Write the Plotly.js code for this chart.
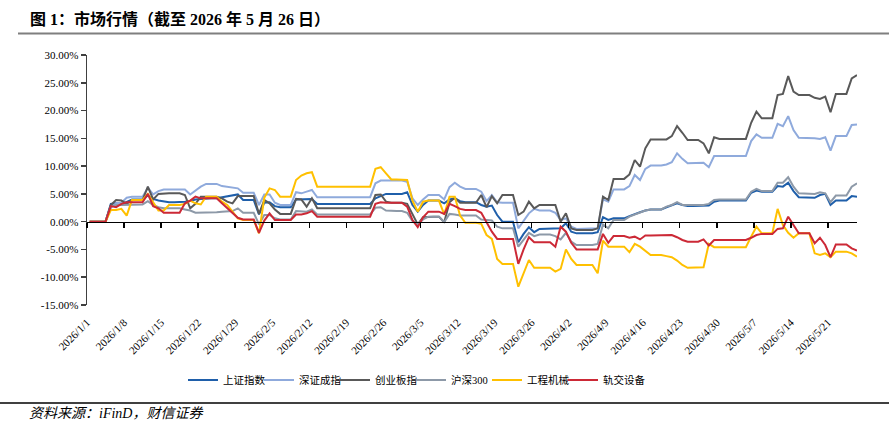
<!DOCTYPE html>
<html>
<head>
<meta charset="utf-8">
<script src="https://cdn.plot.ly/plotly-3.0.1.min.js"></script>
<style>html,body{margin:0;padding:0;background:#fff;}#chart{width:889px;height:430px;}</style>
</head>
<body>
<div id="chart"></div>
<script>
// ---- Data (daily, calendar days from 2026-01-01 to 2026-05-26; % change since 2026-01-01) ----
const startDay = '2026-01-01';
const seriesNames = ['上证指数', '深证成指', '创业板指', '沪深300', '工程机械', '轨交设备'];

const shIndex = [
  // Jan
  0,0,0,0, 3.2,3.3,3.1,3.6,4.0,4.0,4.0, 4.7,4.1,3.8,3.6,3.5,3.5,3.5, 3.6,3.7,4.0,4.1,4.2,4.2,4.2, 4.4,4.6,4.8,4.9,3.9,3.9,
  // Feb
  3.9, 1.3,3.4,3.5,2.8,2.6,2.6,2.6, 4.0,4.0,4.1,4.1,3.2, 3.2,3.2,3.2,3.2,3.2,3.2,3.2,3.2,3.2,3.2, 4.2,4.6,5.0,5.0,5.0,
  // Mar
  5.0, 5.3,3.0,1.8,3.0,3.8,3.8,3.8, 3.3,4.0,4.2,3.7,3.5,3.5,3.5, 3.0,2.7,2.9,1.2,0.0,0.0,0.0, -3.7,-2.2,-1.0,-1.9,-1.3,-1.3,-1.3, -1.2,-1.2,
  // Apr
  -0.3,-1.8,-2.1,-2.1,-2.1,-2.1, -1.9,0.8,0.3,0.6,0.6,0.6, 1.0,1.4,1.7,2.0,2.2,2.2,2.2, 2.6,3.0,3.3,3.0,2.8,2.8,2.8, 2.9,2.9,3.6,3.8,
  // May
  3.8,3.8,3.8,3.8,3.8, 5.2,5.6,5.4,5.4,5.4, 6.4,6.3,7.0,5.5,4.4,4.4,4.4, 4.3,4.8,5.0,3.0,3.8,3.8,3.8, 4.6,4.5
];

const szIndex = [
  0,0,0,0, 2.5,3.3,3.4,4.3,4.5,4.5,4.5, 6.1,4.9,5.5,5.8,5.8,5.8,5.8, 5.8,4.9,5.6,6.3,6.8,6.8,6.8, 6.4,6.3,6.2,6.0,5.2,5.2,
  5.2, 3.0,4.9,4.9,3.4,3.0,3.0,3.0, 5.3,5.1,5.4,5.7,4.4, 4.4,4.4,4.4,4.4,4.4,4.4,4.4,4.4,4.4,4.4, 6.9,7.4,7.4,7.4,7.4,
  7.4, 7.2,4.2,3.0,4.0,4.8,4.8,4.8, 4.0,6.2,7.0,6.3,5.9,5.9,5.9, 5.4,3.7,4.8,3.5,3.4,3.4,3.4, -1.2,0.2,1.5,2.3,2.0,2.0,2.0, 1.6,0.3,
  0.6,-0.9,-1.3,-1.3,-1.3,-1.3, -1.2,4.0,3.6,5.8,5.8,5.8, 6.4,8.4,7.5,9.5,10.1,10.1,10.1, 10.3,10.7,12.3,11.3,10.5,10.5,10.5, 10.6,9.8,11.8,11.8,
  11.8,11.8,11.8,11.8,11.8, 14.5,15.7,15.1,15.1,15.1, 17.6,17.2,19.0,16.5,15.1,15.1,15.1, 15.0,14.9,15.2,12.8,15.4,15.4,15.4, 17.4,17.5
];

const cybIndex = [
  0,0,0,0, 3.0,3.9,3.8,3.2,3.9,3.9,3.9, 6.3,4.0,5.0,5.1,5.1,5.1,5.1, 4.8,2.4,3.2,4.5,4.5,4.5,4.5, 4.2,3.6,3.3,4.6,4.6,4.6,
  4.6, 1.4,3.9,3.3,2.2,1.4,1.4,1.4, 4.1,4.0,2.7,4.2,2.4, 2.4,2.4,2.4,2.4,2.4,2.4,2.4,2.4,2.4,2.4, 4.8,4.9,3.6,3.4,3.4,
  3.4, 3.2,1.4,-0.5,0.8,0.9,0.9,0.9, -0.1,3.5,4.3,3.4,3.4,3.4,3.4, 4.8,2.6,4.6,3.3,4.8,4.8,4.8, 1.2,1.8,3.6,2.4,3.0,3.0,3.0, 3.0,0.0,
  1.5,-1.2,-1.5,-1.5,-1.5,-1.5, -1.2,4.5,3.9,7.7,7.7,7.7, 8.5,11.1,9.9,13.2,14.8,14.8,14.8, 14.8,15.4,17.2,16.0,14.7,14.7,14.7, 14.1,12.3,15.2,14.9,
  14.9,14.9,14.9,14.9,14.9, 17.8,19.8,18.6,18.6,18.6, 22.8,23.0,26.2,23.4,22.8,22.8,22.8, 22.3,22.1,22.5,19.7,23.0,23.0,23.0, 25.8,26.4
];

const hs300 = [
  0,0,0,0, 2.7,3.0,3.0,3.0,3.1,3.1,3.1, 3.7,3.0,2.6,2.4,2.4,2.4,2.4, 2.2,2.0,1.6,1.6,1.7,1.7,1.7, 1.8,1.8,1.9,2.4,1.6,1.6,
  1.6, -0.5,1.2,1.2,0.6,0.4,0.4,0.4, 1.9,1.9,1.8,2.2,1.3, 1.3,1.3,1.3,1.3,1.3,1.3,1.3,1.3,1.3,1.3, 2.5,2.6,2.0,1.9,1.9,
  1.9, 1.6,0.1,-0.5,0.4,0.9,0.9,0.9, -0.1,1.4,1.3,1.1,1.1,1.1,1.1, 0.4,0.3,0.2,-0.9,-1.2,-1.2,-1.2, -4.5,-3.2,-2.0,-2.6,-2.3,-2.3,-2.3, -2.6,-3.2,
  -2.0,-3.6,-4.2,-4.2,-4.2,-4.2, -4.0,-0.5,-1.2,0.3,0.3,0.3, 0.9,1.3,1.6,2.0,2.2,2.2,2.2, 2.7,3.0,3.5,3.0,3.0,3.0,3.0, 3.0,3.2,3.9,4.0,
  4.0,4.0,4.0,4.0,4.0, 5.4,5.9,5.5,5.5,5.5, 7.0,7.0,8.0,6.3,5.1,5.1,5.1, 5.0,5.3,5.1,3.5,4.7,4.7,4.7, 6.3,6.9
];

const machinery = [
  0,0,0,0, 2.1,2.1,2.3,1.1,3.9,3.9,3.9, 5.0,3.4,2.0,2.0,3.0,3.0,3.0, 3.2,3.8,3.3,3.1,4.5,4.5,4.5, 3.6,3.0,1.8,0.6,0.3,0.3,
  0.3, -2.1,4.3,6.0,5.7,4.5,4.5,4.5, 7.5,8.3,8.7,8.9,6.3, 6.3,6.3,6.3,6.3,6.3,6.3,6.3,6.3,6.3,6.3, 9.5,9.8,8.7,7.6,7.6,
  7.6, 7.5,3.8,1.8,3.6,3.8,3.8,3.8, 1.3,4.5,4.5,1.1,-0.2,-0.2,-0.2, -0.4,-2.4,-3.1,-6.7,-7.6,-7.6,-7.6, -11.7,-9.3,-6.9,-8.3,-8.3,-8.3,-8.3, -9.0,-8.5,
  -5.0,-6.7,-7.8,-7.8,-7.8,-7.8, -9.3,-3.4,-4.5,-4.5,-4.5,-4.5, -5.5,-4.0,-4.5,-5.3,-6.0,-6.0,-6.0, -6.2,-6.4,-7.0,-7.8,-8.3,-8.3,-8.3, -8.2,-4.0,-4.6,-4.6,
  -4.6,-4.6,-4.6,-4.6,-4.6, -2.7,-0.9,-2.1,-2.1,-2.1, 2.3,-0.6,-2.0,-2.9,-2.1,-2.1,-2.1, -5.7,-6.0,-5.7,-6.4,-5.4,-5.4,-5.4, -5.7,-6.3
];

const railEquip = [
  0,0,0,0, 2.8,2.6,3.2,3.5,3.5,3.5,3.5, 5.0,2.8,2.4,1.6,1.6,1.6,1.6, 3.3,3.8,4.5,4.2,4.2,4.2,4.2, 3.3,2.4,1.5,0.7,0.4,0.4,
  0.4, -2.0,0.2,1.5,0.3,0.3,0.3,0.3, 1.3,1.3,1.5,1.9,0.9, 0.9,0.9,0.9,0.9,0.9,0.9,0.9,0.9,0.9,0.9, 3.2,3.5,3.4,3.4,3.4,
  3.4, 2.7,0.3,-1.0,0.8,1.8,1.8,1.8, 1.4,3.2,2.8,2.3,2.1,2.1,2.1, 1.6,0.0,-1.8,-3.1,-3.1,-3.1,-3.1, -7.6,-5.0,-2.8,-3.7,-3.7,-3.7,-3.7, -4.5,-0.9,
  -1.8,-3.8,-5.0,-5.0,-5.0,-5.0, -5.0,-2.2,-3.8,-2.6,-2.6,-2.6, -2.9,-2.7,-3.2,-2.5,-2.5,-2.5,-2.5, -2.5,-2.4,-2.8,-3.3,-3.6,-3.6,-3.6, -3.2,-4.3,-3.3,-3.3,
  -3.3,-3.3,-3.3,-3.3,-3.3, -2.9,-2.4,-2.2,-2.2,-2.2, -1.3,-1.2,0.9,-0.7,-2.1,-2.1,-2.1, -3.9,-2.9,-4.2,-6.4,-4.1,-4.1,-4.1, -4.8,-5.2
];

const xTickLabels = ['2026/1/1','2026/1/8','2026/1/15','2026/1/22','2026/1/29','2026/2/5','2026/2/12','2026/2/19','2026/2/26',
  '2026/3/5','2026/3/12','2026/3/19','2026/3/26','2026/4/2','2026/4/9','2026/4/16','2026/4/23','2026/4/30','2026/5/7','2026/5/14','2026/5/21'];
const yTickValues = [-15, -10, -5, 0, 5, 10, 15, 20, 25, 30];

// ---- Build ----
const DAY = 86400000;
const t0 = Date.parse(startDay + 'T00:00:00Z');
function fmt(ms) { const s = new Date(ms).toISOString(); return s.slice(0, 10) + ' ' + s.slice(11, 19); }
const dates = shIndex.map((_, i) => fmt(t0 + i * DAY).slice(0, 10));
// ticks sit on the day boundaries (points are drawn in the middle of each day)
const tickVals = xTickLabels.map(s => { const p = s.split('/').map(Number); return fmt(Date.UTC(p[0], p[1] - 1, p[2]) - DAY / 2); });
const xRange = [fmt(t0 - DAY / 2), fmt(t0 + (shIndex.length - 1) * DAY)];

const seriesData = [shIndex, szIndex, cybIndex, hs300, machinery, railEquip];
const colors = ['#1F5FAA', '#8FAADC', '#595959', '#8D99A8', '#FFC000', '#CC2936'];

const serif = '"Liberation Serif", "Times New Roman", "Noto Sans CJK SC", serif';
const traces = seriesData.map((ys, k) => ({
  type: 'scatter', mode: 'lines', name: seriesNames[k],
  x: dates, y: ys,
  line: { color: colors[k], width: 2 },
  hoverinfo: 'skip'
}));
// helper traces with no visible marks: one carries the zero-level axis, one pads the legend so the last label is not clipped
traces.push({ type: 'scatter', mode: 'lines', x: [], y: [], xaxis: 'x2', showlegend: false, hoverinfo: 'skip' });
traces.push({ type: 'scatter', mode: 'lines', x: [dates[0]], y: [null], name: '\u00a0', showlegend: true,
  line: { width: 0, color: 'rgba(0,0,0,0)' }, hoverinfo: 'skip' });

const W = 889, H = 430, mL = 87, mR = 32, mT = 55, mB = 125;
const pw = W - mL - mR, ph = H - mT - mB;
const px = v => (v - mL) / pw;          // pixel -> paper x
const py = v => (H - mB - v) / ph;      // pixel -> paper y
const yLo = yTickValues[0], yHi = yTickValues[yTickValues.length - 1];

const layout = {
  width: W, height: H,
  margin: { l: mL, r: mR, t: mT, b: mB },
  paper_bgcolor: '#fff', plot_bgcolor: '#fff',
  showlegend: true,
  font: { family: serif, color: '#000' },
  title: {
    text: '<b>图 1：市场行情（截至 2026 年 5 月 26 日）</b>',
    xref: 'container', yref: 'container', x: 30 / W, y: 1 - 19 / H, xanchor: 'left', yanchor: 'middle',
    font: { family: serif, size: 16, color: '#000' }
  },
  xaxis: {
    type: 'date', range: xRange, tickmode: 'array', tickvals: tickVals, ticktext: xTickLabels,
    tickangle: -45, showline: false, ticks: '', showgrid: false, zeroline: false, ticklabelstandoff: 8,
    tickfont: { family: serif, size: 11, color: '#000' }
  },
  xaxis2: {
    type: 'date', overlaying: 'x', anchor: 'free', position: (0 - yLo) / (yHi - yLo),
    range: xRange, tickmode: 'array', tickvals: tickVals, showticklabels: false,
    showline: true, linecolor: '#000', linewidth: 1.5, ticks: 'outside', ticklen: 5, tickwidth: 1.5, tickcolor: '#000',
    showgrid: false, zeroline: false
  },
  yaxis: {
    range: [yLo, yHi], tickmode: 'array', tickvals: yTickValues, ticktext: yTickValues.map(v => v.toFixed(2) + '%'),
    showline: true, linecolor: '#404040', linewidth: 1.5, ticks: 'outside', ticklen: 5, tickwidth: 1.5, tickcolor: '#404040',
    showgrid: false, zeroline: false,
    tickfont: { family: serif, size: 11, color: '#000' }
  },
  legend: {
    orientation: 'h', x: px(183), xanchor: 'left', y: py(380), yanchor: 'middle',
    font: { family: serif, size: 10.5, color: '#000' },
    entrywidth: 31, entrywidthmode: 'pixels', bgcolor: 'rgba(0,0,0,0)'
  },
  shapes: [
    { type: 'line', xref: 'paper', yref: 'paper', x0: px(18), x1: px(W), y0: py(33.5), y1: py(33.5), line: { color: '#7F7F7F', width: 2 } },
    { type: 'line', xref: 'paper', yref: 'paper', x0: px(0), x1: px(W), y0: py(403), y1: py(403), line: { color: '#000', width: 1.5 } }
  ],
  annotations: [
    { text: '<i>资料来源：iFinD，财信证券</i>', xref: 'paper', yref: 'paper', x: px(27), y: py(413), xanchor: 'left', yanchor: 'middle',
      showarrow: false, font: { family: serif, size: 14, color: '#000' } }
  ]
};

Plotly.newPlot('chart', traces, layout, { staticPlot: true, displayModeBar: false });
</script>
</body>
</html>
